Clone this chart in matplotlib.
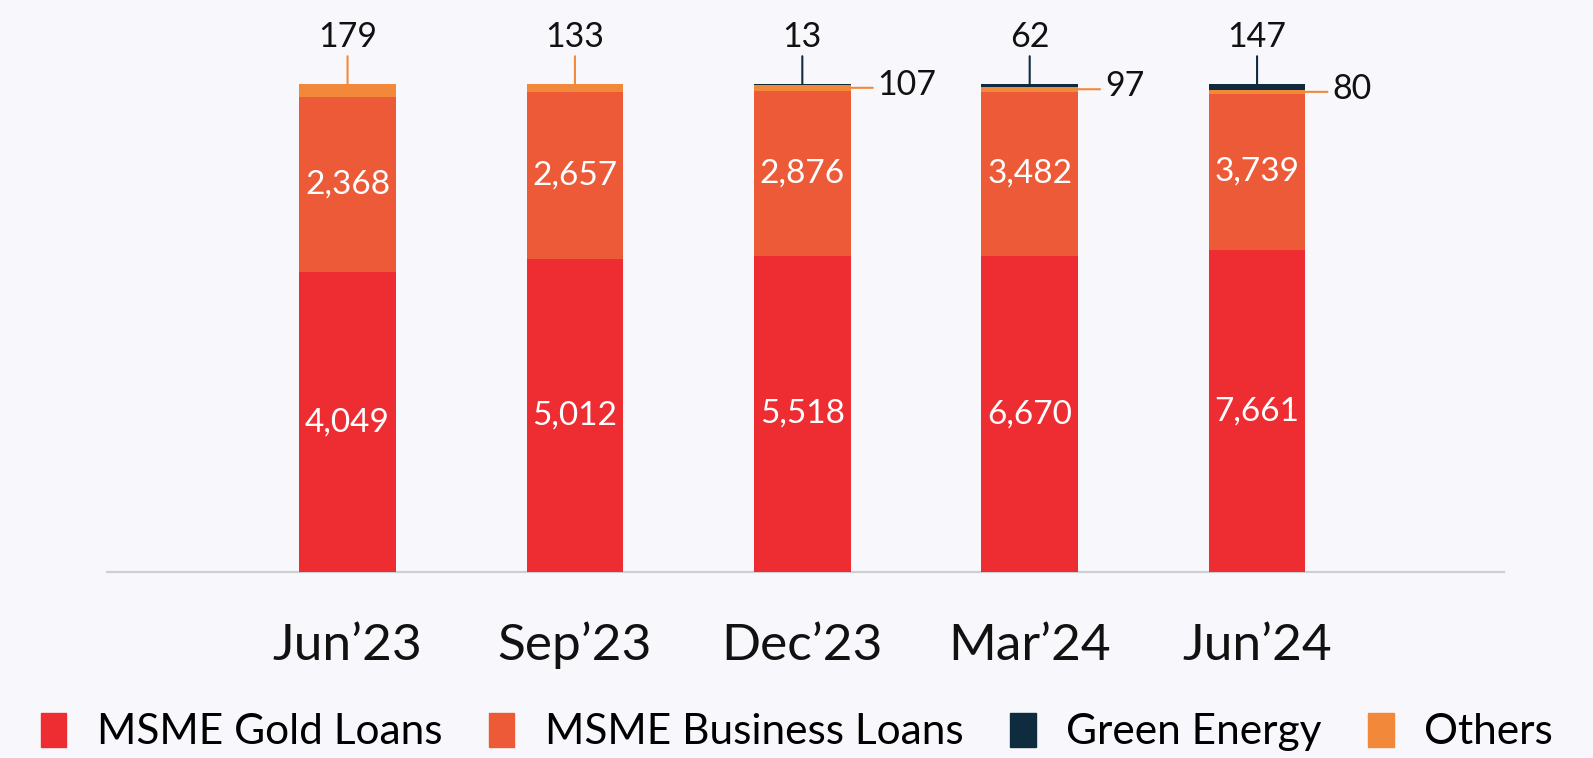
import matplotlib
matplotlib.use('Agg')
import matplotlib.pyplot as plt
from matplotlib.patches import Patch
import numpy as np

# ---- data ----
quarters = ['Jun’23', 'Sep’23', 'Dec’23', 'Mar’24', 'Jun’24']
gold_loans = [4049, 5012, 5518, 6670, 7661]
business_loans = [2368, 2657, 2876, 3482, 3739]
others = [179, 133, 107, 97, 80]
green_energy = [0, 0, 13, 62, 147]
series_names = ['MSME Gold Loans', 'MSME Business Loans', 'Green Energy', 'Others']

C_GOLD = '#EE2D32'
C_BUS = '#EC5A38'
C_GREEN = '#0E2C3E'
C_OTH = '#F2893A'
BG = '#F8F8FC'

plt.rcParams['font.family'] = ['Lato', 'DejaVu Sans']

W, H = 1593, 758
fig = plt.figure(figsize=(W / 100, H / 100), dpi=100, facecolor=BG)
ax = fig.add_axes([107 / W, 1 - 572 / H, (1504 - 107) / W, 488 / H])
ax.set_facecolor(BG)

x = np.arange(len(quarters))
gold = np.array(gold_loans, float)
bus = np.array(business_loans, float)
oth = np.array(others, float)
grn = np.array(green_energy, float)
total = gold + bus + oth + grn
p_gold = gold / total * 100
p_bus = bus / total * 100
p_oth = oth / total * 100
p_grn = grn / total * 100

bw = 0.424
ax.bar(x, p_gold, bw, color=C_GOLD, zorder=2)
ax.bar(x, p_bus, bw, bottom=p_gold, color=C_BUS, zorder=2)
ax.bar(x, p_oth, bw, bottom=p_gold + p_bus, color=C_OTH, zorder=2)
ax.bar(x, p_grn, bw, bottom=p_gold + p_bus + p_oth, color=C_GREEN, zorder=2)

ax.set_xlim(-1.058, 5.086)
ax.set_ylim(0, 100)
for s in ax.spines.values():
    s.set_visible(False)
ax.set_xticks([])
ax.set_yticks([])
ax.axhline(0, color='#CFCFD3', lw=1.6, zorder=1, clip_on=False)

# category labels
for i, q in enumerate(quarters):
    ax.annotate(q, xy=(i, 0), xytext=(0, -53), textcoords='offset points',
                ha='center', va='center', fontsize=37, color='#111111')

# inside labels
for i in range(len(x)):
    ax.text(i, p_gold[i] / 2, f'{gold_loans[i]:,}', ha='center', va='center',
            color='white', fontsize=24, zorder=3)
    ax.text(i, p_gold[i] + p_bus[i] / 2, f'{business_loans[i]:,}', ha='center',
            va='center', color='white', fontsize=24, zorder=3)

def top_label(i, val, color):
    ax.annotate('', xy=(i, 100), xytext=(0, 20), textcoords='offset points',
                arrowprops=dict(arrowstyle='-', color=color, lw=1.5,
                                shrinkA=0, shrinkB=0))
    ax.annotate(f'{val:,}', xy=(i, 100), xytext=(0, 34), textcoords='offset points',
                ha='center', va='center', fontsize=24.5, color='#111111')

def side_label(i, val, yc, color):
    ax.annotate('', xy=(i + bw / 2, yc), xytext=(16, 0), textcoords='offset points',
                arrowprops=dict(arrowstyle='-', color=color, lw=1.5,
                                shrinkA=0, shrinkB=0))
    ax.annotate(f'{val:,}', xy=(i + bw / 2, yc), xytext=(19.5, 2),
                textcoords='offset points', ha='left', va='center',
                fontsize=24.5, color='#111111')

for i in range(len(x)):
    if green_energy[i] > 0:
        top_label(i, green_energy[i], C_GREEN)
        side_label(i, others[i], p_gold[i] + p_bus[i] + p_oth[i] / 2, C_OTH)
    else:
        top_label(i, others[i], C_OTH)

handles = [Patch(color=C_GOLD), Patch(color=C_BUS), Patch(color=C_GREEN), Patch(color=C_OTH)]
fig.legend(handles, series_names, loc='center left', bbox_to_anchor=(41 / W, 1 - 732 / H),
           ncol=4, frameon=False, fontsize=30.5, handlelength=0.6, handleheight=0.86,
           handletextpad=0.72, columnspacing=1.1, borderpad=0, borderaxespad=0)

fig.savefig('out.png', dpi=100, facecolor=BG)
